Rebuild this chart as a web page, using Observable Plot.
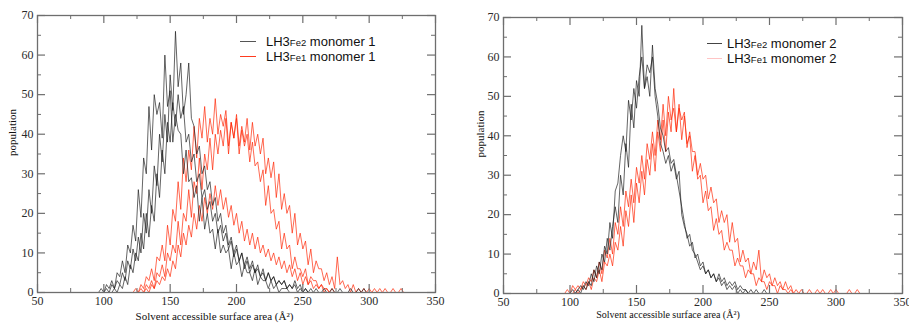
<!DOCTYPE html>
<html><head><meta charset="utf-8">
<script src="https://cdn.jsdelivr.net/npm/d3@7"></script>
<script src="https://cdn.jsdelivr.net/npm/@observablehq/plot@0.6"></script>
<style>
body{margin:0;background:#fff;width:909px;height:323px;overflow:hidden;position:relative}
.panel{position:absolute;top:0}
.panel svg{overflow:visible}
.panel svg text{font-family:"Liberation Serif","Times New Roman",serif !important}
.leg{position:absolute;font-family:"Liberation Sans",Arial,sans-serif;font-size:13px;color:#111;white-space:nowrap;line-height:15px}
.leg .row{position:relative;height:15px}
.leg .sw{position:absolute;top:7px;height:1px}
.leg .tx{position:absolute}
.leg sub{font-size:9.5px;vertical-align:baseline}
</style></head><body>
<div id="p1" class="panel" style="left:0"></div>
<div id="p2" class="panel" style="left:460px"></div>
<script>
// ---- axis ticks / labels ----
const xMajor = [50, 100, 150, 200, 250, 300, 350];
const xMinor = [75, 125, 175, 225, 275, 325];
const yMajor = [0, 10, 20, 30, 40, 50, 60, 70];
const yMinor = [5, 15, 25, 35, 45, 55, 65];
const xLabel = "Solvent accessible surface area (Å²)";
const yLabel = "population";
const binStep = 2;

// ---- panel 1 : monomer 1 ----
const m1Fe2aStart = 96;
const m1Fe2a = [0,1,0,2,1,3,1,5,4,8,5,12,10,17,13,26,19,34,30,47,36,50,45,48,39,60,47,51,38,45,41,40,30,36,28,29,24,27,18,24,16,20,15,16,11,16,10,12,10,11,6,10,7,8,4,7,5,5,3,6,2,4,3,3,1,3,1,2,0,1,1,1,0];
const m1Fe2bStart = 100;
const m1Fe2b = [0,1,0,2,1,3,2,5,3,8,6,11,8,14,10,20,15,26,20,32,27,40,33,45,38,55,46,66,52,58,45,50,58,44,42,35,37,30,32,26,28,22,24,18,20,15,17,12,14,10,12,8,10,7,9,6,8,5,7,4,6,3,5,3,4,2,3,2,3,1,2,1,2,0,1,0,1,0];
const m1Fe2cStart = 106;
const m1Fe2c = [0,1,0,2,1,4,2,7,5,10,8,15,11,20,14,22,18,30,24,36,30,43,38,48,42,50,44,47,38,40,33,35,28,30,24,26,21,23,18,20,15,17,13,15,11,13,9,11,8,10,6,8,5,7,5,6,4,5,3,5,3,4,2,3,2,3,1,2,1,3,1,2,0,1,0,1,0,1,0,0,1,0,0,1,0,0,1,0,0,0,1,0,0,1,0,1,0];
const m1Fe1aStart = 122;
const m1Fe1a = [0,1,0,2,1,4,3,6,3,9,8,12,8,17,12,21,18,28,21,34,28,36,31,42,34,44,39,47,38,44,40,49,40,45,42,46,37,43,39,44,35,41,37,40,33,38,32,33,28,31,22,27,20,21,16,18,11,15,11,12,6,9,6,6,4,6,2,4,3,3,1,2,1,1,0,1,0];
const m1Fe1bStart = 126;
const m1Fe1b = [0,1,0,2,1,3,1,5,4,7,4,10,8,12,10,18,12,20,18,26,19,28,25,34,26,35,31,39,31,40,35,41,37,44,35,43,39,45,37,42,38,44,36,43,37,40,35,39,30,34,29,33,24,30,21,25,20,22,15,20,12,15,11,13,7,11,5,8,6,6,3,5,2,4,1,9,2,3,1,2,0,2,0,1,0,1,0,1,0,1,0,1,0,1,0,0,1,0,0,1,0];
const m1Fe1cStart = 130;
const m1Fe1c = [0,1,0,2,1,3,2,4,3,6,4,8,6,12,9,15,12,17,14,20,16,22,18,24,20,25,21,27,22,26,21,24,19,22,17,20,15,18,13,16,12,15,11,14,10,12,9,11,8,10,7,9,6,8,5,7,4,6,3,5,2,4,2,3,1,2,1,2,0,1,0];

// ---- panel 2 : monomer 2 ----
const m2Fe2aStart = 100;
const m2Fe2a = [0,1,0,1,2,1,3,2,5,3,7,5,10,8,14,11,17,22,18,30,25,38,32,48,42,54,50,68,52,55,50,63,52,48,42,40,36,37,33,34,30,26,22,18,14,15,11,10,8,6,7,5,6,4,5,3,4,2,3,1,2,1,2,0,1,0,1,0];
const m2Fe2bStart = 104;
const m2Fe2b = [0,1,0,2,1,3,2,6,4,8,6,12,10,18,14,26,28,35,40,36,49,44,52,47,55,60,52,58,56,60,50,45,38,36,33,35,31,33,29,31,20,17,15,12,13,9,10,7,8,5,6,4,5,3,5,3,4,2,3,2,3,1,2,1,1,0,1,0,1,0,0,1,0];
const m2Fe1aStart = 96;
const m2Fe1a = [0,1,0,2,1,2,1,3,2,4,3,6,4,8,5,11,9,14,10,18,15,22,17,26,22,29,23,32,28,35,29,38,34,41,35,44,39,48,40,50,44,47,41,48,39,45,38,40,31,35,29,30,23,26,21,22,16,19,15,16,11,13,11,11,7,9,7,7,4,6,5,5,2,4,3,3,1,3,2,2,0,2,1,1,0,1,0];
const m2Fe1bStart = 102;
const m2Fe1b = [0,1,0,1,2,1,3,1,4,3,6,3,8,7,10,7,13,11,17,12,21,17,25,18,28,23,31,25,34,30,38,31,41,36,44,36,46,41,52,41,47,44,46,37,41,36,36,30,33,29,30,24,27,23,24,18,21,18,20,13,18,13,14,8,11,8,9,5,8,6,11,3,6,4,5,2,4,2,3,1,3,1,2,0,1,0,1,0,0,1,0,0,1,0,1,0,0,1,0,1,0,0,0,0,1,0,0,1,0];

function toPts(start, arr) { return arr.map((v, i) => ({x: start + binStep * i, y: v})); }

const BLACK = "#1a1a1a", RED = "#ff2200", FRAME = "#6e6e6e", TXT = "#2a2a2a";

function panel({width, height, mL, mR, mT, mB, blacks, reds, xdx, xdy, ydx, xfs}) {
  const innerH = height - mT - mB;
  const innerW = width - mL - mR;
  const lineOpts = (c) => ({x: "x", y: "y", stroke: c, strokeWidth: 0.75, strokeOpacity: 0.9});
  return Plot.plot({
    width, height,
    marginLeft: mL, marginRight: mR, marginTop: mT, marginBottom: mB,
    style: {background: "transparent", fontFamily: "'Liberation Serif', 'Times New Roman', serif", fontSize: "11px", color: TXT},
    x: {domain: [50, 350]},
    y: {domain: [0, 70]},
    marks: [
      ...reds.map(d => Plot.line(d, lineOpts(RED))),
      ...blacks.map(d => Plot.line(d, lineOpts(BLACK))),
      Plot.frame({stroke: FRAME, strokeWidth: 1.3}),
      Plot.tickX(xMajor, {x: d => d, insetTop: innerH - 8, stroke: FRAME, strokeWidth: 1.2}),
      Plot.tickX(xMajor, {x: d => d, insetBottom: innerH - 8, stroke: FRAME, strokeWidth: 1.2}),
      Plot.tickX(xMinor, {x: d => d, insetTop: innerH - 4, stroke: FRAME}),
      Plot.tickX(xMinor, {x: d => d, insetBottom: innerH - 4, stroke: FRAME}),
      Plot.tickY(yMajor, {y: d => d, insetRight: innerW - 8, stroke: FRAME, strokeWidth: 1.2}),
      Plot.tickY(yMajor, {y: d => d, insetLeft: innerW - 8, stroke: FRAME, strokeWidth: 1.2}),
      Plot.tickY(yMinor, {y: d => d, insetRight: innerW - 4, stroke: FRAME}),
      Plot.tickY(yMinor, {y: d => d, insetLeft: innerW - 4, stroke: FRAME}),
      Plot.axisX(xMajor, {tickSize: 0, tickPadding: 4, label: null, fontSize: 12}),
      Plot.axisY(yMajor, {tickSize: 0, tickPadding: 4, label: null, fontSize: 12}),
      Plot.text([xLabel], {text: d => d, frameAnchor: "bottom", dx: xdx, dy: xdy, fontSize: xfs, fill: "#111"}),
      Plot.text([yLabel], {text: d => d, frameAnchor: "left", rotate: -90, dx: ydx, dy: 2, fontSize: 11, fill: "#111"})
    ]
  });
}

const p1 = panel({
  width: 455, height: 323, mL: 37, mR: 20, mT: 15, mB: 31,
  blacks: [toPts(m1Fe2aStart, m1Fe2a), toPts(m1Fe2bStart, m1Fe2b), toPts(m1Fe2cStart, m1Fe2c)],
  reds: [toPts(m1Fe1aStart, m1Fe1a), toPts(m1Fe1bStart, m1Fe1b), toPts(m1Fe1cStart, m1Fe1c)],
  xdx: -22, xdy: 27, ydx: -25, xfs: 11
});
const p2 = panel({
  width: 449, height: 323, mL: 43, mR: 7, mT: 17, mB: 30,
  blacks: [toPts(m2Fe2aStart, m2Fe2a), toPts(m2Fe2bStart, m2Fe2b)],
  reds: [toPts(m2Fe1aStart, m2Fe1a), toPts(m2Fe1bStart, m2Fe1b)],
  xdx: -35, xdy: 24, ydx: -23, xfs: 10
});
document.getElementById("p1").appendChild(p1);
document.getElementById("p2").appendChild(p2);

// ---- legends ----
const legend1 = [{main: "LH3", sub: "Fe2", rest: " monomer 1", color: "#555"}, {main: "LH3", sub: "Fe1", rest: " monomer 1", color: "#ff3b1f"}];
const legend2 = [{main: "LH3", sub: "Fe2", rest: " monomer 2", color: "#444"}, {main: "LH3", sub: "Fe1", rest: " monomer 2", color: "#ffc4c4"}];
function addLegend(host, items, left, top, swW, gap) {
  const box = document.createElement("div");
  box.className = "leg";
  box.style.left = left + "px"; box.style.top = top + "px";
  items.forEach(it => {
    const row = document.createElement("div"); row.className = "row";
    const sw = document.createElement("div"); sw.className = "sw";
    sw.style.left = "0px"; sw.style.width = swW + "px"; sw.style.background = it.color;
    const tx = document.createElement("div"); tx.className = "tx"; tx.style.left = (swW + gap) + "px";
    tx.appendChild(document.createTextNode(it.main));
    const s = document.createElement("sub"); s.textContent = it.sub; tx.appendChild(s);
    tx.appendChild(document.createTextNode(it.rest));
    row.appendChild(sw); row.appendChild(tx); box.appendChild(row);
  });
  document.getElementById(host).appendChild(box);
}
addLegend("p1", legend1, 240, 34, 16, 10);
addLegend("p2", legend2, 247, 36, 15, 5);
</script>
</body></html>
